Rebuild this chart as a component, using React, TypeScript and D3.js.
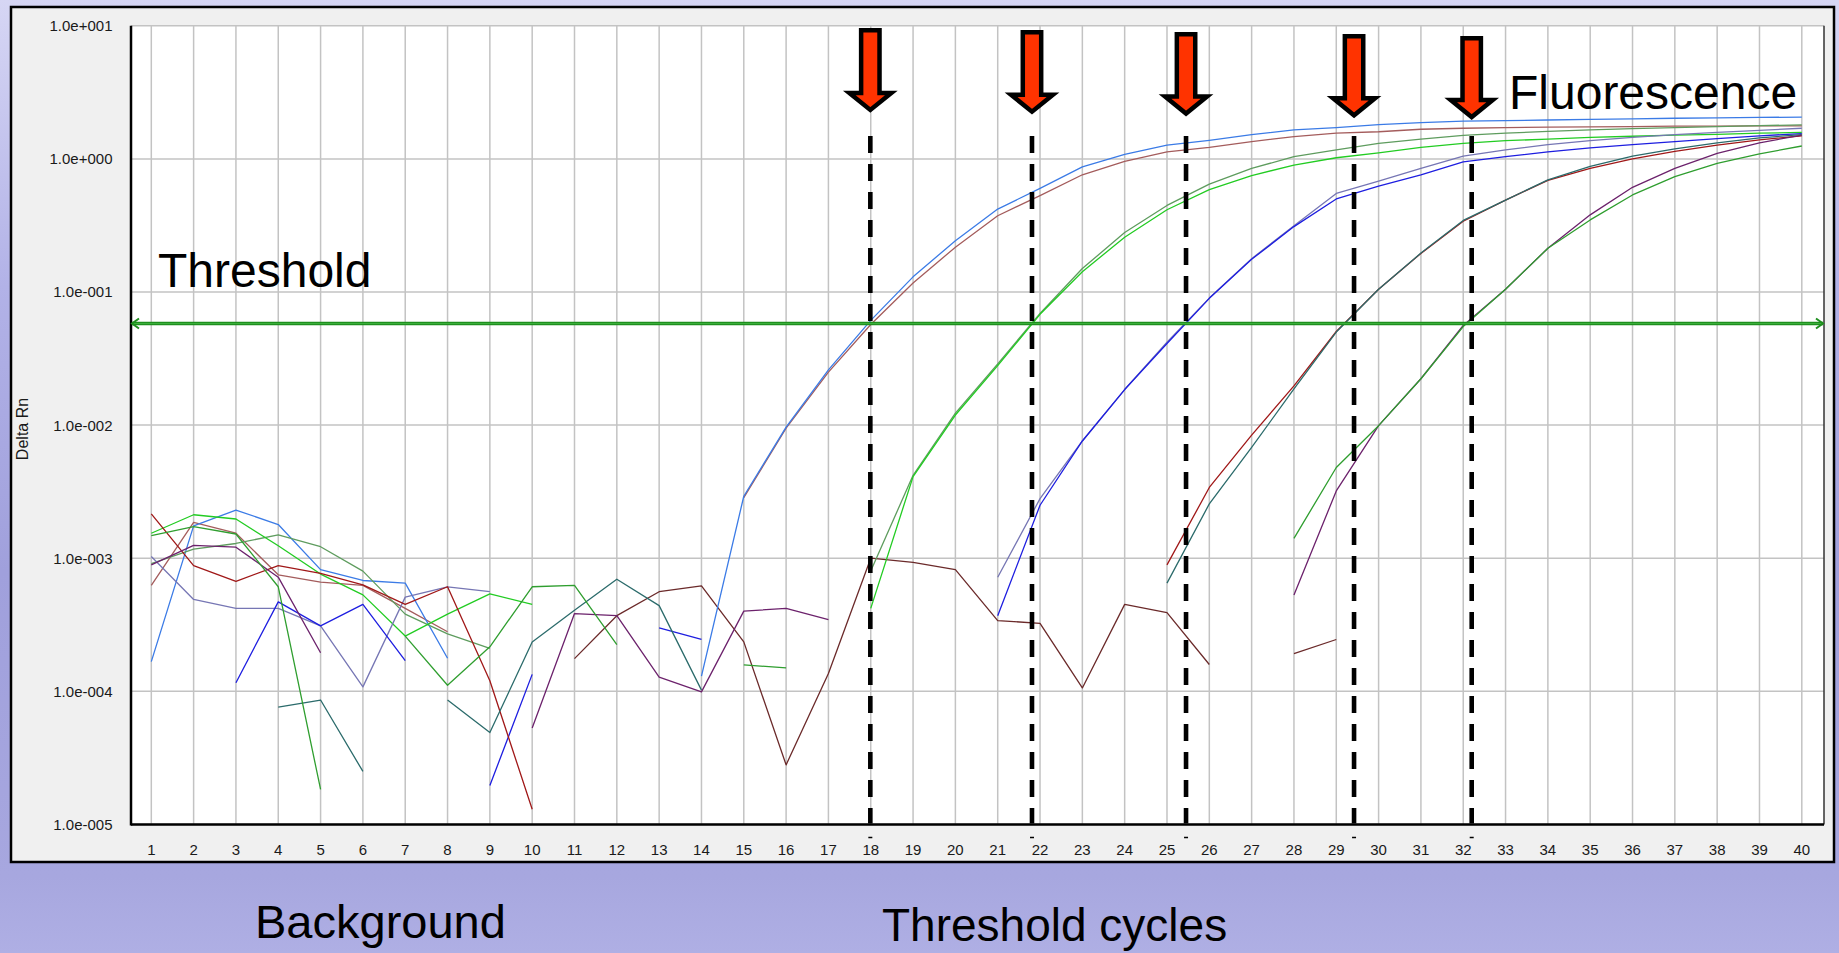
import React from 'react';
import * as d3 from 'd3';

// ---------- data ----------
const cycles = d3.range(1, 41);
const N = null;

// Ct ~18 pair
const blueLight = [1.67e-4, 1.75e-3, 2.3e-3, 1.79e-3, 8.2e-4, 6.8e-4, 6.5e-4, 1.77e-4, N, N,
  N, N, N, 1.3e-4, 2.92e-3, 9.66e-3, 0.026, 0.0612, 0.13, 0.243,
  0.42, 0.6, 0.87, 1.08, 1.27, 1.38, 1.52, 1.65, 1.72, 1.81,
  1.87, 1.92, 1.94, 1.96, 1.98, 2.0, 2.02, 2.03, 2.05, 2.06];
const brownRose = [6.25e-4, 1.86e-3, 1.54e-3, 7.5e-4, 6.6e-4, 6.25e-4, 4.2e-4, 2.8e-4, N, N,
  N, N, N, N, 2.85e-3, 9.5e-3, 0.025, 0.057, 0.117, 0.217,
  0.374, 0.53, 0.76, 0.96, 1.13, 1.22, 1.35, 1.47, 1.56, 1.6,
  1.67, 1.7, 1.72, 1.73, 1.74, 1.75, 1.76, 1.76, 1.77, 1.77];
// Ct ~21.8 pair
const greenGray = [9.1e-4, 1.17e-3, 1.29e-3, 1.5e-3, 1.22e-3, 8.0e-4, 3.8e-4, 2.7e-4, 2.1e-4, N,
  N, N, N, N, N, N, N, 8.0e-4, 4.2e-3, 0.0123,
  0.0288, 0.069, 0.15, 0.28, 0.447, 0.647, 0.848, 1.04, 1.17, 1.31,
  1.41, 1.5, 1.56, 1.61, 1.65, 1.69, 1.72, 1.75, 1.78, 1.8];
const greenBright = [1.54e-3, 2.12e-3, 1.97e-3, 1.24e-3, 7.6e-4, 5.3e-4, 2.6e-4, 3.8e-4, 5.4e-4, 4.5e-4,
  N, N, N, N, N, N, N, 4.2e-4, 4.1e-3, 0.0119,
  0.028, 0.068, 0.142, 0.258, 0.415, 0.587, 0.75, 0.898, 1.02, 1.11,
  1.22, 1.31, 1.37, 1.41, 1.45, 1.48, 1.51, 1.53, 1.56, 1.58];
// Ct ~25.5 pair
const slate = [1.03e-3, 4.9e-4, 4.2e-4, 4.2e-4, 3.1e-4, 1.08e-4, 5.1e-4, 6.1e-4, 5.6e-4, N,
  N, N, N, N, N, N, N, N, N, N,
  7.2e-4, 2.8e-3, 7.6e-3, 0.0185, 0.042, 0.09, 0.178, 0.315, 0.55, 0.68,
  0.85, 1.05, 1.17, 1.28, 1.37, 1.45, 1.52, 1.58, 1.64, 1.7];
const blueDark = [N, N, 1.16e-4, 4.7e-4, 3.1e-4, 4.5e-4, 1.7e-4, N, 1.96e-5, 1.34e-4,
  N, N, 3.0e-4, 2.46e-4, N, N, N, N, N, N,
  3.7e-4, 2.5e-3, 7.6e-3, 0.0185, 0.041, 0.0896, 0.176, 0.31, 0.5, 0.625,
  0.76, 0.95, 1.04, 1.13, 1.21, 1.28, 1.35, 1.42, 1.49, 1.55];
// Ct ~29.4 pair
const redDark = [2.15e-3, 8.8e-4, 6.7e-4, 8.8e-4, 7.7e-4, 6.3e-4, 4.5e-4, 6.1e-4, 1.2e-4, 1.3e-5,
  N, N, N, N, N, N, N, N, N, N,
  N, N, N, N, 8.9e-4, 3.4e-3, 8.4e-3, 0.0197, 0.0505, 0.105,
  0.195, 0.34, 0.49, 0.69, 0.85, 1.0, 1.14, 1.27, 1.39, 1.49];
const tealDark = [N, N, N, 7.6e-5, 8.6e-5, 2.5e-5, N, 8.6e-5, 4.9e-5, 2.35e-4,
  4.06e-4, 6.95e-4, 4.4e-4, 1.02e-4, N, N, N, N, N, N,
  N, N, N, N, 6.5e-4, 2.56e-3, 6.8e-3, 0.0187, 0.05, 0.105,
  0.196, 0.345, 0.49, 0.695, 0.88, 1.05, 1.19, 1.32, 1.44, 1.52];
// Ct ~32.2 pair
const purple = [8.9e-4, 1.25e-3, 1.21e-3, 7.2e-4, 1.95e-4, N, N, N, N, 5.3e-5,
  3.84e-4, 3.7e-4, 1.28e-4, 9.9e-5, 4.0e-4, 4.2e-4, 3.46e-4, N, N, N,
  N, N, N, N, N, N, N, 5.3e-4, 3.2e-3, 9.9e-3,
  0.0223, 0.056, 0.105, 0.213, 0.38, 0.612, 0.849, 1.1, 1.32, 1.51];
const greenMid = [1.48e-3, 1.73e-3, 1.52e-3, 6.1e-4, 1.83e-5, N, 2.6e-4, 1.11e-4, 2.16e-4, 6.1e-4,
  6.25e-4, 2.24e-4, N, N, 1.58e-4, 1.5e-4, N, N, N, N,
  N, N, N, N, N, N, N, 1.41e-3, 4.8e-3, 9.9e-3,
  0.0223, 0.055, 0.105, 0.213, 0.348, 0.536, 0.735, 0.927, 1.09, 1.25];
// no-template control
const maroon = [N, N, N, N, N, N, N, N, N, N,
  1.76e-4, 3.7e-4, 5.6e-4, 6.2e-4, 2.35e-4, 2.8e-5, 1.36e-4, 1.0e-3, 9.3e-4, 8.2e-4,
  3.4e-4, 3.24e-4, 1.06e-4, 4.5e-4, 3.9e-4, 1.59e-4, N, 1.92e-4, 2.45e-4, N,
  N, N, N, N, N, N, N, N, N, N];

const series = [
  { name: 'NTC', values: maroon, color: '#6b2a2a' },
  { name: 'A2', values: brownRose, color: '#a45c5c' },
  { name: 'A1', values: blueLight, color: '#3b7be6' },
  { name: 'B1', values: greenGray, color: '#5e9c5e' },
  { name: 'B2', values: greenBright, color: '#22cc22' },
  { name: 'C1', values: slate, color: '#7676b4' },
  { name: 'C2', values: blueDark, color: '#1e1ee0' },
  { name: 'D1', values: redDark, color: '#a01818' },
  { name: 'D2', values: tealDark, color: '#2b6b6b' },
  { name: 'E1', values: purple, color: '#6c226c' },
  { name: 'E2', values: greenMid, color: '#2f9e2f' },
];

const ctValues = [17.99, 21.81, 25.45, 29.42, 32.2];
const thresholdValue = 0.058;
const yTickValues = [10, 1, 0.1, 0.01, 0.001, 0.0001, 0.00001];
const yTickLabels = ['1.0e+001', '1.0e+000', '1.0e-001', '1.0e-002', '1.0e-003', '1.0e-004', '1.0e-005'];
const xTickLabels = cycles.map(c => String(c));

// ---------- layout ----------
const W = 1839;
const H = 953;
const plotL = 131;
const plotR = 1824;
const plotT = 25.8;
const plotB = 824.4;

const x = d3.scaleLinear().domain([1, 40]).range([151.3, 1801.8]);
const y = d3.scaleLog().domain([1e-5, 10]).range([plotB, plotT]);

const lineGen = d3.line<number | null>()
  .defined(d => d != null && d > 0)
  .x((_, i) => x(cycles[i]))
  .y(d => y(d as number));

const FONT = 'Arial, "Liberation Sans", Helvetica, sans-serif';

function arrowPath(cx: number, top: number, tip: number) {
  const sw = 9.2; // shaft half width
  const hw = 21; // head half width
  const t = top + 2.2;
  const p = tip - 3.1;
  const s = p - 17;
  return `M${cx - sw},${t} L${cx + sw},${t} L${cx + sw},${s} L${cx + hw},${s} L${cx},${p} L${cx - hw},${s} L${cx - sw},${s} Z`;
}

export default function App() {
  const ty = y(thresholdValue);
  return (
    <svg width={W} height={H} style={{ position: 'absolute', left: 0, top: 0, display: 'block' }}
      xmlns="http://www.w3.org/2000/svg">
      <defs>
        <linearGradient id="bgGrad" x1="0" y1="0" x2="0" y2="1">
          <stop offset="0" stopColor="#d6d6f4" />
          <stop offset="0.3" stopColor="#b2b2e7" />
          <stop offset="0.6" stopColor="#a0a0dc" />
          <stop offset="0.92" stopColor="#a7a7df" />
          <stop offset="1" stopColor="#afafe4" />
        </linearGradient>
        <clipPath id="plotClip">
          <rect x={plotL} y={plotT - 2} width={plotR - plotL} height={plotB - plotT + 2} />
        </clipPath>
      </defs>
      <rect x={0} y={0} width={W} height={H} fill="url(#bgGrad)" />

      {/* chart panel */}
      <rect x={11} y={7} width={1823} height={855} fill="#f0f0f0" stroke="#000" strokeWidth={2.5} />
      <rect x={plotL} y={plotT} width={plotR - plotL} height={plotB - plotT} fill="#ffffff" />

      {/* grid */}
      {cycles.map(c => (
        <line key={'gx' + c} x1={x(c)} x2={x(c)} y1={plotT} y2={plotB} stroke="#c3c3c3" strokeWidth={1.5} />
      ))}
      {yTickValues.map(v => (
        <line key={'gy' + v} x1={plotL} x2={plotR} y1={y(v)} y2={y(v)} stroke="#c3c3c3" strokeWidth={1.5} />
      ))}

      {/* axes frame */}
      <line x1={plotR} x2={plotR} y1={plotT} y2={plotB} stroke="#333" strokeWidth={1.5} />
      <line x1={plotL} x2={plotL} y1={plotT} y2={plotB + 1} stroke="#000" strokeWidth={2.5} />
      <line x1={plotL} x2={plotR} y1={plotB} y2={plotB} stroke="#000" strokeWidth={2.5} />

      {/* y tick labels */}
      {yTickValues.map((v, i) => (
        <text key={'yl' + v} x={112.5} y={y(v)} dy="0.36em" textAnchor="end" fontFamily={FONT} fontSize={15} fill="#1a1a1a">
          {yTickLabels[i]}
        </text>
      ))}
      {/* x tick labels */}
      {cycles.map((c, i) => (
        <text key={'xl' + c} x={x(c)} y={849.5} dy="0.36em" textAnchor="middle" fontFamily={FONT} fontSize={15} fill="#1a1a1a">
          {xTickLabels[i]}
        </text>
      ))}
      <text transform="translate(22,429) rotate(-90)" textAnchor="middle" dy="0.36em" fontFamily={FONT} fontSize={16} fill="#1a1a1a">
        Delta Rn
      </text>

      {/* amplification curves */}
      <g clipPath="url(#plotClip)">
        {series.map(s => (
          <path key={s.name} d={lineGen(s.values) || ''} fill="none" stroke={s.color} strokeWidth={1.3} strokeLinejoin="round" />
        ))}
      </g>

      {/* threshold line */}
      <line x1={plotL + 1} x2={plotR - 1} y1={ty} y2={ty} stroke="#1f8f1f" strokeWidth={3.4} />
      <line x1={plotL + 1} x2={plotR - 1} y1={ty} y2={ty} stroke="#3cb03c" strokeWidth={1} />
      <path d={`M${plotL + 8},${ty - 5} L${plotL + 1},${ty} L${plotL + 8},${ty + 5}`} fill="none" stroke="#1f8f1f" strokeWidth={2} />
      <path d={`M${plotR - 8},${ty - 5} L${plotR - 1},${ty} L${plotR - 8},${ty + 5}`} fill="none" stroke="#1f8f1f" strokeWidth={2} />

      {/* Ct markers */}
      {ctValues.map((ct, i) => {
        const cx = x(ct);
        return (
          <g key={'ct' + i}>
            <line x1={cx} x2={cx} y1={136} y2={plotB - 1} stroke="#000" strokeWidth={4.6} strokeDasharray="17 11" />
            <line x1={cx - 2} x2={cx + 2} y1={837.5} y2={837.5} stroke="#000" strokeWidth={1.5} />
            <path d={arrowPath(cx, 28 + i * 2, 113 + i * 1.8)} fill="#ff3300" stroke="#000" strokeWidth={4.5} strokeLinejoin="miter" />
          </g>
        );
      })}

      {/* annotations */}
      <text x={158} y={287} fontFamily={FONT} fontSize={48} fill="#000">Threshold</text>
      <text x={1509} y={108.5} fontFamily={FONT} fontSize={48} fill="#000">Fluorescence</text>
      <text x={255} y={938} fontFamily={FONT} fontSize={47} fill="#000">Background</text>
      <text x={882} y={941} fontFamily={FONT} fontSize={46} fill="#000">Threshold cycles</text>
    </svg>
  );
}
